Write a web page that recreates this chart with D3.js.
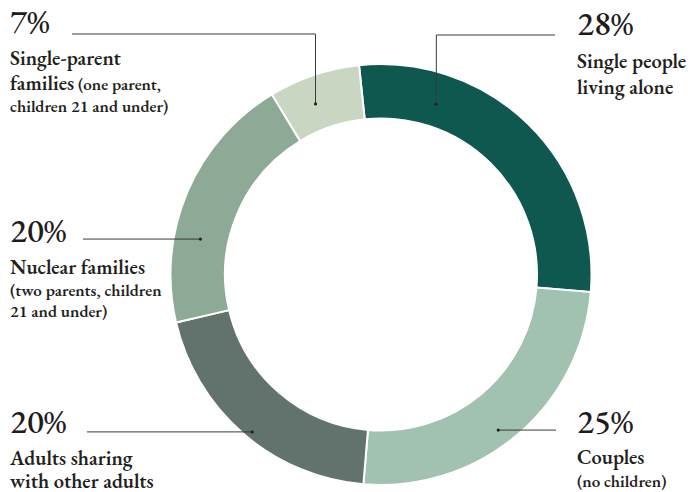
<!DOCTYPE html>
<html><head><meta charset="utf-8">
<script src="https://cdn.jsdelivr.net/npm/d3@7"></script>
<style>
html,body{margin:0;padding:0;background:#fff;}
svg{display:block;}
</style></head>
<body>
<svg id="chart" width="693" height="492" font-family="'EB Garamond', 'Liberation Serif', serif"></svg>
<script>
// ---- data ----
const categories = ["Single people living alone","Couples (no children)","Adults sharing with other adults","Nuclear families (two parents, children 21 and under)","Single-parent families (one parent, children 21 and under)"];
const values = [28, 25, 20, 20, 7];
const pctLabels = ["28%","25%","20%","20%","7%"];
const colors = ["#0e5850","#a1c2b1","#62736e","#8daa97","#c8d6c2"];

const labelLines = [
  [{t:"Single people",s:"m"},{t:"living alone",s:"m"}],
  [{t:"Couples",s:"m"},{t:"(no children)",s:"s"}],
  [{t:"Adults sharing",s:"m"},{t:"with other adults",s:"m"}],
  [{t:"Nuclear families",s:"m"},{t:"(two parents, children",s:"s"},{t:"21 and under)",s:"s"}],
  [{t:"Single-parent",s:"m"},{t:"families",s:"m",extra:" (one parent,"},{t:"children 21 and under)",s:"s"}]
];

// ---- layout (annotation placement) ----
const cx = 381, cy = 274.5, rOuter = 210.5, rInner = 156;
const startDeg = -6;
const layout = [
  {x:577, py:35, lines:[68,94], dot:[18,179], lineEnd:[555,35], elbow:true},
  {x:577, py:433, lines:[464,487], dot:[143,194.8], lineEnd:[556,430], elbow:false},
  {x:10, py:433, lines:[465,488], dot:[219.3,203.4], lineEnd:[87,432], elbow:false},
  {x:10, py:242, lines:[274,296,317], dot:[-78.9,184], lineEnd:[83,239], elbow:false},
  {x:10, py:33, lines:[65,90,112], dot:[-21,182.7], lineEnd:[72,34], elbow:true}
];

const svg = d3.select("#chart");
const g = svg.append("g").attr("transform",`translate(${cx},${cy})`);

const pie = d3.pie().value(d=>d).sort(null)
  .startAngle(startDeg*Math.PI/180).endAngle((startDeg+360)*Math.PI/180);
const arc = d3.arc().innerRadius(rInner).outerRadius(rOuter);

g.selectAll("path.slice").data(pie(values)).join("path")
  .attr("class","slice")
  .attr("d",arc)
  .attr("fill",(d,i)=>colors[i])
  .attr("stroke","#fff").attr("stroke-width",2);

const polar = (deg,r)=>[cx + r*Math.sin(deg*Math.PI/180), cy - r*Math.cos(deg*Math.PI/180)];
layout.forEach((L,i)=>{
  const [dx,dy] = polar(L.dot[0],L.dot[1]);
  let pts;
  if(L.elbow){ pts = [[L.lineEnd[0],L.lineEnd[1]],[dx,L.lineEnd[1]],[dx,dy]]; }
  else { pts = [[L.lineEnd[0],dy],[dx,dy]]; }
  svg.append("path").attr("d",d3.line()(pts))
    .attr("fill","none").attr("stroke","#3a3a3a").attr("stroke-width",1);
  svg.append("circle").attr("cx",dx).attr("cy",dy).attr("r",1.6).attr("fill","#222");
});

layout.forEach((L,i)=>{
  svg.append("text").attr("x",L.x).attr("y",L.py).attr("fill","#1f1b1c")
    .attr("font-size",34).attr("font-weight",500).text(pctLabels[i]);
  labelLines[i].forEach((ln,j)=>{
    const t = svg.append("text").attr("x",L.x).attr("y",L.lines[j]).attr("fill","#231f20");
    if(ln.s==="m"){
      t.append("tspan").attr("font-size",20.5).attr("font-weight",600).text(ln.t);
      if(ln.extra) t.append("tspan").attr("font-size",17).attr("font-weight",600).text(ln.extra);
    } else {
      t.attr("font-size",17).attr("font-weight",600).text(ln.t);
    }
  });
});
</script>
</body></html>
